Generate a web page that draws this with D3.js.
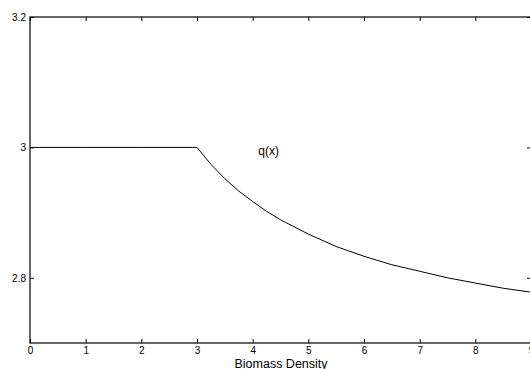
<!DOCTYPE html>
<html><head><meta charset="utf-8">
<script src="https://cdn.jsdelivr.net/npm/d3@7"></script>
<style>html,body{margin:0;padding:0;background:#fff;overflow:hidden}</style>
</head><body><svg id="c" width="530" height="369"></svg>
<script>
const xVals = [0, 1, 2, 3, 3.125, 3.25, 3.375, 3.5, 3.75, 4, 4.25, 4.5, 5, 5.5, 6, 6.5, 7, 7.5, 8, 8.5, 9];
const qVals = [3, 3, 3, 3, 2.987, 2.974, 2.963, 2.952, 2.933, 2.917, 2.902, 2.889, 2.867, 2.848, 2.833, 2.820, 2.810, 2.800, 2.792, 2.784, 2.778];
const xTicks = [0,1,2,3,4,5,6,7,8,9];
const yTicks = [2.8, 3, 3.2];
const xLabel = "Biomass Density";
const curveLabel = "q(x)";

const svg = d3.select("#c");
const L = 30, R = 531, T = 17, B = 343;
const x = d3.scaleLinear().domain([0,9]).range([L,R]);
const y = d3.scaleLinear().domain([2.7,3.2]).range([B,T]);
const font = "Liberation Sans, Arial, sans-serif";

const g = svg.append("g");
g.append("rect").attr("x",L).attr("y",T).attr("width",R-L).attr("height",B-T)
 .attr("fill","none").attr("stroke","#000").attr("stroke-width",1.2);

const ax = (gen, tr) => {
  const a = g.append("g").attr("transform",tr).call(gen);
  a.select(".domain").remove();
  a.selectAll("text").attr("font-family",font).attr("font-size",10).attr("fill","#000");
  a.selectAll("line").attr("stroke","#000");
  return a;
};
ax(d3.axisBottom(x).tickValues(xTicks).tickFormat(d3.format("d")).tickSizeInner(-4).tickPadding(3.5), `translate(0,${B})`);
ax(d3.axisTop(x).tickValues(xTicks).tickSizeInner(-4).tickFormat(""), `translate(0,${T})`);
ax(d3.axisLeft(y).tickValues(yTicks).tickFormat(d=>d===3?"3":d3.format(".1f")(d)).tickSizeInner(-4).tickPadding(4), `translate(${L},0)`);
ax(d3.axisRight(y).tickValues(yTicks).tickSizeInner(-4).tickFormat(""), `translate(${R},0)`);

const line = d3.line().x((d,i)=>x(xVals[i])).y(d=>y(d));
g.append("path").datum(qVals).attr("d",line).attr("fill","none").attr("stroke","#000").attr("stroke-width",1);

g.append("text").attr("x",x(4.1)).attr("y",154.5).attr("font-family",font).attr("font-size",12).text(curveLabel);
g.append("text").attr("x",281).attr("y",368).attr("text-anchor","middle").attr("font-family",font).attr("font-size",12.5).text(xLabel);
</script></body></html>
